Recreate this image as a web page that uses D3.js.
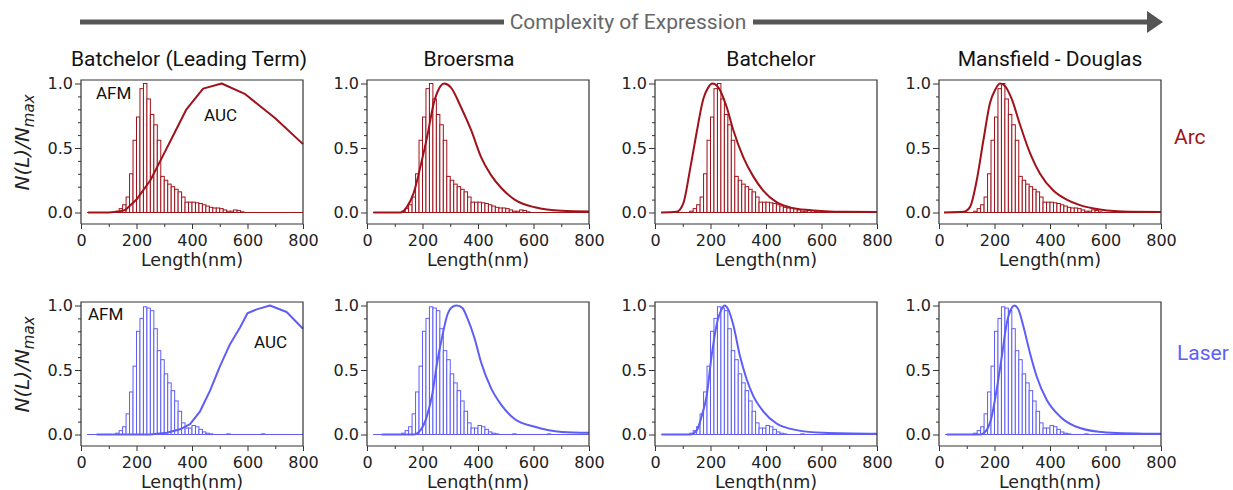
<!DOCTYPE html>
<html>
<head>
<meta charset="utf-8">
<script src="https://cdn.jsdelivr.net/npm/d3@7"></script>
<style>
  body { margin: 0; background: #fff; }
  .tick text { font-family: "DejaVu Sans", sans-serif; font-size: 16px; fill: #222; }
  .tick line { stroke: #333; }
</style>
</head>
<body>
<div id="chart"></div>
<script>
// ---- data ----
const models = ["Batchelor (Leading Term)", "Broersma", "Batchelor", "Mansfield - Douglas"];
const rowNames = ["Arc", "Laser"];
const xMajorTicks = [0, 200, 400, 600, 800];
const xMinorTicks = [100, 300, 500, 700];
const yMajorTicks = [0, 0.5, 1.0];
const yMinorTicks = [0.1, 0.2, 0.3, 0.4, 0.6, 0.7, 0.8, 0.9];
const binWidth = 12.5;
const baselineStart = 22;

// AFM histogram, arc sample (bin start in nm, N/Nmax)
const arcBins = [125, 137.5, 150, 162.5, 175, 187.5, 200, 212.5, 225, 237.5, 250, 262.5, 275, 287.5,
  300, 312.5, 325, 337.5, 350, 362.5, 375, 387.5, 400, 412.5, 425, 437.5, 450, 462.5, 475, 487.5,
  500, 512.5, 525, 537.5, 550, 562.5, 575];
const arcCounts = [0.01, 0.03, 0.06, 0.12, 0.30, 0.56, 0.74, 0.96, 1.0, 0.88, 0.76, 0.68, 0.56, 0.28,
  0.25, 0.22, 0.20, 0.18, 0.16, 0.12, 0.08, 0.08, 0.08, 0.075, 0.07, 0.06, 0.05, 0.04, 0.035, 0.035,
  0.03, 0.02, 0.01, 0.01, 0.02, 0.015, 0.005];

// AFM histogram, laser sample
const laserBins = [125, 137.5, 150, 162.5, 175, 187.5, 200, 212.5, 225, 237.5, 250, 262.5, 275, 287.5,
  300, 312.5, 325, 337.5, 350, 362.5, 375, 387.5, 400, 412.5, 425, 437.5, 450, 462.5, 525, 650];
const laserCounts = [0.01, 0.03, 0.06, 0.16, 0.33, 0.53, 0.80, 0.90, 0.99, 0.98, 0.96, 0.82, 0.65, 0.58,
  0.47, 0.40, 0.34, 0.26, 0.18, 0.09, 0.05, 0.05, 0.07, 0.06, 0.04, 0.02, 0.01, 0.005, 0.005, 0.005];

// AUC curves [length nm, N/Nmax]
const arcLeading = [[25, 0], [100, 0], [130, 0.005], [160, 0.02], [200, 0.1], [250, 0.25], [300, 0.46],
  [340, 0.63], [380, 0.8], [440, 0.96], [507, 1.0], [590, 0.92], [700, 0.73], [800, 0.53]];
const arcBroersma = [[23, 0], [120, 0], [144, 0.044], [168, 0.15], [193, 0.36], [217, 0.59], [241, 0.85],
  [265, 0.98], [278, 1.0], [302, 0.97], [338, 0.82], [375, 0.64], [411, 0.43], [447, 0.29], [484, 0.19],
  [532, 0.1], [605, 0.04], [702, 0.013], [800, 0.008]];
const arcBatchelor = [[22, 0], [78, 0.005], [102, 0.07], [126, 0.33], [150, 0.62], [174, 0.88], [192, 0.97],
  [207, 1.0], [228, 0.97], [258, 0.82], [282, 0.64], [318, 0.43], [354, 0.28], [390, 0.17], [438, 0.08],
  [486, 0.04], [559, 0.018], [679, 0.005], [800, 0.003]];
const arcMansfield = [[18, 0], [88, 0.005], [112, 0.044], [136, 0.25], [160, 0.56], [184, 0.85], [202, 0.95],
  [220, 1.0], [238, 0.98], [262, 0.88], [292, 0.68], [328, 0.46], [364, 0.3], [412, 0.17], [460, 0.1],
  [508, 0.057], [580, 0.023], [688, 0.005], [800, 0.003]];

const laserLeading = [[56, 0], [249, 0], [309, 0.013], [357, 0.04], [393, 0.08], [429, 0.18], [465, 0.34],
  [501, 0.53], [537, 0.7], [573, 0.83], [600, 0.94], [633, 0.97], [681, 1.0], [741, 0.95], [800, 0.82]];
const laserBroersma = [[53, 0], [168, 0], [193, 0.034], [217, 0.15], [235, 0.31], [253, 0.56], [272, 0.77],
  [290, 0.93], [308, 0.99], [324, 1.0], [344, 0.98], [362, 0.9], [387, 0.75], [411, 0.56], [447, 0.36],
  [484, 0.23], [532, 0.12], [605, 0.06], [702, 0.02], [800, 0.013]];
const laserBatchelor = [[24, 0], [126, 0], [150, 0.03], [168, 0.14], [186, 0.3], [204, 0.61], [222, 0.85],
  [240, 0.97], [250, 1.0], [264, 0.97], [282, 0.85], [306, 0.61], [330, 0.43], [354, 0.3], [390, 0.18],
  [438, 0.085], [510, 0.034], [607, 0.013], [800, 0.005]];
const laserMansfield = [[28, 0], [148, 0], [172, 0.036], [190, 0.14], [208, 0.35], [226, 0.6], [244, 0.86],
  [262, 0.98], [271, 1.0], [286, 0.97], [304, 0.84], [328, 0.63], [352, 0.45], [388, 0.27], [436, 0.14],
  [508, 0.05], [604, 0.016], [800, 0.005]];

// ---- layout ----
const width = 1233, height = 490;
const colLeft = [81, 367, 655, 939];
const plotW = 222;
const zeroY = [212.5, 434.5];
const unitH = 129;
const titleX = [189, 469, 771, 1050];
const colors = ["#a0121a", "#5e5ef7"];

const rowsData = [
  { bins: arcBins, counts: arcCounts, curves: [arcLeading, arcBroersma, arcBatchelor, arcMansfield] },
  { bins: laserBins, counts: laserCounts, curves: [laserLeading, laserBroersma, laserBatchelor, laserMansfield] }
];

const svg = d3.select("#chart").append("svg")
  .attr("width", width)
  .attr("height", height)
  .style("font-family", "Roboto, sans-serif");

// complexity arrow across the top
const arrowY = 22;
svg.append("line").attr("x1", 80).attr("x2", 504).attr("y1", arrowY).attr("y2", arrowY)
  .attr("stroke", "#555").attr("stroke-width", 5);
svg.append("line").attr("x1", 753).attr("x2", 1150).attr("y1", arrowY).attr("y2", arrowY)
  .attr("stroke", "#555").attr("stroke-width", 5);
svg.append("path")
  .attr("d", `M1147,${arrowY - 11}L1163,${arrowY}L1147,${arrowY + 11}Z`)
  .attr("fill", "#555");
svg.append("text")
  .attr("x", 628).attr("y", arrowY).attr("dy", "0.35em")
  .attr("text-anchor", "middle")
  .attr("font-size", 21).attr("fill", "#666")
  .text("Complexity of Expression");

// column titles
models.forEach((m, c) => {
  svg.append("text")
    .attr("x", titleX[c]).attr("y", 66)
    .attr("text-anchor", "middle")
    .attr("font-size", 21).attr("fill", "#111")
    .text(m);
});

rowsData.forEach((rd, r) => {
  const color = colors[r];
  const hist = rd.bins.map((b, i) => ({ x0: b, x1: b + binWidth, v: rd.counts[i] }));

  rd.curves.forEach((curve, c) => {
    const x = d3.scaleLinear().domain([0, 800]).range([colLeft[c], colLeft[c] + plotW]);
    const y = d3.scaleLinear().domain([0, 1]).range([zeroY[r], zeroY[r] - unitH]);
    const top = y(1) - 3.5, bottom = y(0) + 11.5;
    const g = svg.append("g");

    // histogram bars
    g.append("g").selectAll("rect")
      .data(hist)
      .enter()
      .append("rect")
      .attr("x", d => x(d.x0))
      .attr("y", d => y(d.v))
      .attr("width", d => x(d.x1) - x(d.x0))
      .attr("height", d => y(0) - y(d.v))
      .attr("fill", "#fff")
      .attr("stroke", color)
      .attr("stroke-width", 1);

    // zero baseline
    g.append("line")
      .attr("x1", x(baselineStart)).attr("x2", x(800))
      .attr("y1", y(0)).attr("y2", y(0))
      .attr("stroke", color).attr("stroke-width", 1.2);

    // AUC curve
    const line = d3.line()
      .x(d => x(d[0]))
      .y(d => y(d[1]))
      .curve(c === 0 ? d3.curveLinear : d3.curveMonotoneX);
    g.append("path")
      .datum(curve)
      .attr("d", line)
      .attr("fill", "none")
      .attr("stroke", color)
      .attr("stroke-width", 2)
      .attr("stroke-linejoin", "round");

    // frame
    g.append("path")
      .attr("d", `M${x(0)},${bottom}V${top}H${x(800)}V${bottom}H${x(0)}`)
      .attr("fill", "none")
      .attr("stroke", "#333")
      .attr("stroke-width", 1.2);

    // x axis
    g.append("g")
      .attr("transform", `translate(0,${bottom})`)
      .call(d3.axisBottom(x).tickValues(xMinorTicks).tickSize(3).tickFormat(""))
      .call(a => a.select(".domain").remove());
    g.append("g")
      .attr("transform", `translate(0,${bottom})`)
      .call(d3.axisBottom(x).tickValues(xMajorTicks).tickSize(5).tickPadding(6).tickFormat(d3.format("d")))
      .call(a => a.select(".domain").remove());

    // y axis
    g.append("g")
      .attr("transform", `translate(${x(0)},0)`)
      .call(d3.axisLeft(y).tickValues(yMinorTicks).tickSize(3).tickFormat(""))
      .call(a => a.select(".domain").remove());
    g.append("g")
      .attr("transform", `translate(${x(0)},0)`)
      .call(d3.axisLeft(y).tickValues(yMajorTicks).tickSize(6).tickPadding(2).tickFormat(d3.format(".1f")))
      .call(a => a.select(".domain").remove());

    // x label
    g.append("text")
      .attr("x", (x(0) + x(800)) / 2)
      .attr("y", bottom + 35.5).attr("dy", "0.35em")
      .attr("text-anchor", "middle")
      .style("font-family", "'DejaVu Sans', sans-serif")
      .attr("font-size", 17.5).attr("fill", "#222")
      .text("Length(nm)");

    if (c === 0) {
      // y label
      const yl = g.append("text")
        .attr("transform", `translate(29,${zeroY[r] - 70}) rotate(-90)`)
        .attr("text-anchor", "middle")
        .style("font-family", "'DejaVu Sans', sans-serif")
        .style("font-style", "italic")
        .attr("font-size", 20).attr("fill", "#222");
      yl.append("tspan").text("N(L)/N");
      yl.append("tspan").attr("font-size", 15).attr("dy", 5).text("max");

      // AFM / AUC annotations
      const afmPos = r === 0 ? [96, 93] : [88, 314];
      const aucPos = r === 0 ? [204, 115] : [254, 342];
      g.append("text").attr("x", afmPos[0]).attr("y", afmPos[1]).attr("dy", "0.35em")
        .attr("font-size", 17).attr("fill", "#111").text("AFM");
      g.append("text").attr("x", aucPos[0]).attr("y", aucPos[1]).attr("dy", "0.35em")
        .attr("font-size", 17).attr("fill", "#111").text("AUC");
    }
  });

  // row label
  svg.append("text")
    .attr("x", r === 0 ? 1174 : 1177)
    .attr("y", r === 0 ? 137 : 353).attr("dy", "0.35em")
    .attr("font-size", 21).attr("fill", color)
    .text(rowNames[r]);
});
</script>
</body>
</html>
